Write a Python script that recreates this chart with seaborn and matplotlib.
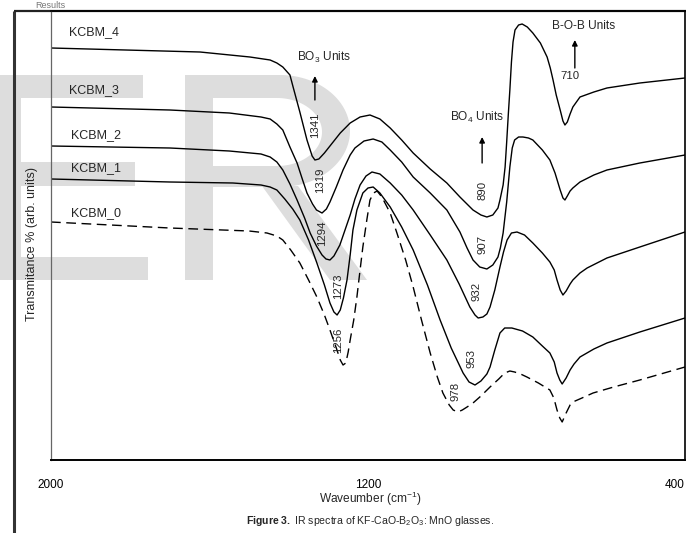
import numpy as np
import pandas as pd
import matplotlib
matplotlib.use("Agg")
import matplotlib.pyplot as plt
import seaborn as sns
from matplotlib.patches import Polygon, Rectangle

# ---------------- data ----------------
w4 = [2000, 1624, 1498, 1447, 1430, 1415, 1397, 1389, 1372, 1354, 1341, 1334, 1324, 1310, 1296, 1270,
      1245, 1220, 1195, 1170, 1144, 1115, 1086, 1043, 1001, 968, 935, 915, 900, 885, 872, 867, 859,
      854, 850, 846, 842, 838, 834, 829, 820, 811, 798, 784, 765, 748, 740, 733, 725, 715, 708, 703,
      697, 690, 683, 665, 630, 597, 514, 400]
t4 = [412, 408, 403, 400, 397, 393, 385, 373, 348, 320, 304, 300, 301, 307, 314, 327,
      337, 343, 345, 341, 332, 320, 307, 291, 277, 263, 250, 245, 243, 245, 252, 260, 275,
      293, 318, 345, 370, 398, 418, 430, 435, 436, 433, 427, 417, 403, 392, 380, 365, 350, 339, 335,
      338, 346, 353, 363, 368, 372, 377, 382]

w3 = [2000, 1700, 1550, 1470, 1447, 1430, 1415, 1397, 1379, 1365, 1354, 1340, 1330, 1316, 1305, 1296,
      1280, 1263, 1245, 1233, 1210, 1187, 1165, 1144, 1115, 1086, 1043, 1001, 968, 950, 935, 918, 900,
      885, 872, 866, 859, 850, 842, 836, 830, 820, 809, 795, 784, 760, 741, 728, 715, 708, 703, 697,
      690, 683, 665, 630, 597, 514, 400]
t3 = [353, 350, 347, 343, 341, 336, 330, 313, 297, 280, 267, 256, 250, 247, 251, 258,
      273, 290, 305, 312, 319, 321, 318, 310, 298, 283, 267, 250, 228, 212, 200, 193, 191,
      195, 203, 212, 227, 258, 293, 312, 320, 323, 323, 322, 320, 310, 300, 287, 270, 262, 260, 264,
      269, 272, 278, 285, 290, 297, 305]

w2 = [2000, 1700, 1550, 1470, 1447, 1430, 1415, 1397, 1379, 1360, 1346, 1330, 1316, 1306, 1296, 1286,
      1271, 1258, 1245, 1233, 1220, 1205, 1190, 1170, 1144, 1115, 1086, 1043, 1001, 970, 943, 930, 922,
      910, 900, 892, 880, 867, 858, 849, 838, 824, 805, 784, 760, 741, 730, 723, 715, 708, 700, 690,
      683, 665, 647, 597, 514, 400]
t2 = [314, 312, 309, 306, 303, 298, 290, 276, 260, 242, 227, 214, 205, 201, 200, 204,
      215, 230, 245, 261, 275, 284, 288, 286, 277, 265, 250, 225, 200, 176, 153, 145, 142,
      143, 146, 153, 170, 193, 208, 220, 227, 228, 225, 217, 207, 198, 190, 180, 170, 165, 169, 176,
      180, 187, 192, 202, 213, 228]

w1 = [2000, 1700, 1541, 1470, 1447, 1430, 1410, 1390, 1372, 1350, 1329, 1310, 1296, 1286, 1278, 1270,
      1262, 1253, 1245, 1238, 1228, 1213, 1200, 1187, 1170, 1144, 1115, 1086, 1050, 1018, 990, 960, 945,
      930, 915, 900, 892, 880, 867, 855, 837, 810, 784, 760, 741, 730, 723, 716, 710, 700, 690, 680,
      665, 630, 597, 514, 400]
t1 = [281, 278, 277, 275, 273, 270, 261, 251, 240, 220, 197, 175, 157, 148, 145, 150,
      162, 180, 205, 230, 250, 267, 272, 273, 267, 253, 233, 210, 175, 140, 112, 87, 78,
      75, 79, 86, 93, 110, 127, 132, 132, 129, 123, 114, 107, 98, 87, 80, 76, 82, 90, 96,
      103, 111, 117, 128, 142]

w0 = [2000, 1700, 1500, 1455, 1430, 1415, 1395, 1372, 1350, 1329, 1310, 1296, 1280, 1270, 1263, 1256,
      1250, 1245, 1236, 1228, 1220, 1213, 1203, 1195, 1186, 1177, 1165, 1144, 1127, 1105, 1086, 1065,
      1043, 1025, 1011, 995, 985, 973, 962, 950, 935, 915, 892, 870, 855, 842, 830, 815, 799, 770, 741,
      731, 723, 716, 710, 700, 690, 683, 660, 632, 580, 514, 400]
t0 = [238, 232, 229, 227, 224, 220, 210, 197, 180, 163, 145, 130, 112, 100, 95, 97,
      108, 120, 140, 163, 190, 213, 240, 260, 267, 269, 263, 247, 227, 200, 173, 140,
      107, 83, 67, 55, 50, 48, 50, 53, 57, 64, 73, 81, 87, 89, 88, 86, 83, 77, 70,
      62, 50, 42, 38, 47, 55, 58, 62, 67, 73, 80, 93]

samples = ["KCBM_4", "KCBM_3", "KCBM_2", "KCBM_1", "KCBM_0"]
label_w = [1955, 1955, 1950, 1950, 1950]
label_t = [428, 370, 325, 292, 247]

peak_texts = ["1341", "1319", "1294", "1273", "1256", "890", "907", "932", "953", "978"]
peak_w = [1334, 1321, 1316, 1276, 1276, 912, 912, 925, 938, 980]
peak_t = [335, 280, 227, 174, 120, 270, 216, 169, 101, 69]

xticks = [2000, 1200, 400]

# ---------------- figure ----------------
sns.set_theme(style="white")
plt.rcParams["font.family"] = ["Liberation Sans", "DejaVu Sans"]
plt.rcParams["mathtext.fontset"] = "custom"
plt.rcParams["mathtext.rm"] = "Liberation Sans"
plt.rcParams["mathtext.it"] = "Liberation Sans:italic"
plt.rcParams["mathtext.bf"] = "Liberation Sans:bold"

W, H = 691, 533
fig = plt.figure(figsize=(W / 100, H / 100), dpi=100)
fig.patch.set_facecolor("white")

# background overlay in pixel coordinates (watermark + page frame)
bg = fig.add_axes([0, 0, 1, 1], zorder=0)
bg.set_xlim(0, W)
bg.set_ylim(H, 0)
bg.axis("off")
wm = "#dddddd"
# E
bg.add_patch(Rectangle((-20, 75), 41, 205, color=wm, lw=0))
bg.add_patch(Rectangle((-20, 75), 163, 23, color=wm, lw=0))
bg.add_patch(Rectangle((-20, 162), 155, 24, color=wm, lw=0))
bg.add_patch(Rectangle((-20, 257), 168, 23, color=wm, lw=0))
# R
bg.add_patch(Rectangle((185, 75), 28, 205, color=wm, lw=0))
ang = np.linspace(-np.pi / 2, np.pi / 2, 60)
outer = [(213, 75), (280, 75)] + [(280 + 70 * np.cos(a), 131 + 56 * np.sin(a)) for a in ang] + [(213, 187)]
bg.add_patch(Polygon(outer, closed=True, color=wm, lw=0))
inner = [(213, 98), (277, 98)] + [(277 + 45 * np.cos(a), 132 + 34 * np.sin(a)) for a in ang] + [(213, 166)]
bg.add_patch(Polygon(inner, closed=True, color="white", lw=0))
bg.add_patch(Polygon([(262, 186), (298, 186), (367, 280), (330, 280)], closed=True, color=wm, lw=0))
# page frame
bg.plot([14, 14], [11, H + 5], color="#333333", lw=2.2, solid_capstyle="butt")
bg.plot([14, 686], [11, 11], color="#222222", lw=1.6, solid_capstyle="butt")
bg.text(35, 5, "Results", fontsize=6.5, color="#777777", va="center", ha="left")

# main axes
ax = fig.add_axes([51 / W, (H - 460) / H, 634 / W, 449 / H], zorder=1)
ax.set_facecolor("none")

series = [(w4, t4), (w3, t3), (w2, t2), (w1, t1), (w0, t0)]
for i, (name, (ws, ts)) in enumerate(zip(samples, series)):
    df = pd.DataFrame({"w": ws, "t": ts})
    ls = (0, (7, 4)) if name == "KCBM_0" else "-"
    sns.lineplot(data=df, x="w", y="t", ax=ax, color="black", lw=1.0, linestyle=ls,
                 sort=False, estimator=None)
    ax.text(label_w[i], label_t[i], name, fontsize=9, ha="left", va="center")

for txt, x, y in zip(peak_texts, peak_w, peak_t):
    ax.text(x, y, txt, rotation=90, fontsize=8.2, ha="center", va="center")
ax.text(690, 384, "710", fontsize=8.2, ha="center", va="center")

ax.text(1379, 403, r"BO$_3$ Units", fontsize=8.6, ha="left", va="center")
ax.text(993, 343, r"BO$_4$ Units", fontsize=8.6, ha="left", va="center")
ax.text(736, 434, "B-O-B Units", fontsize=8.6, ha="left", va="center")
arrow = dict(arrowstyle="-|>", color="black", lw=1.0, mutation_scale=8, shrinkA=0, shrinkB=0)
ax.annotate("", xy=(1334, 384), xytext=(1334, 360), arrowprops=arrow)
ax.annotate("", xy=(912, 323), xytext=(912, 297), arrowprops=arrow)
ax.annotate("", xy=(678, 420), xytext=(678, 392), arrowprops=arrow)

ax.set_xlim(2000, 400)
ax.set_ylim(0, 449)
ax.set_xticks(xticks)
ax.set_xticklabels([str(v) for v in xticks])
ax.set_yticks([])
ax.tick_params(axis="x", direction="in", length=4, width=0.8, pad=14, labelsize=8.5, colors="black")
labels = ax.get_xticklabels()
labels[-1].set_horizontalalignment("right")
labels[-1].set_x(labels[-1].get_position()[0])
ax.set_xlabel("")
ax.set_ylabel("")
for s in ["top", "right", "bottom"]:
    ax.spines[s].set_color("black")
ax.spines["bottom"].set_linewidth(1.4)
ax.spines["right"].set_linewidth(1.2)
ax.spines["top"].set_linewidth(1.2)
ax.spines["left"].set_color("#666666")
ax.spines["left"].set_linewidth(0.9)

fig.text(32 / W, 1 - 244 / H, "Transmitance % (arb. units)", rotation=90, fontsize=9,
         ha="center", va="center")
fig.text(370 / W, 1 - 499 / H, r"Waveumber (cm$^{-1}$)", fontsize=8.6, ha="center", va="center")
fig.text(370 / W, 1 - 521 / H, r"$\bf{Figure\ 3.}$ IR spectra of KF-CaO-B$_2$O$_3$: MnO glasses.",
         fontsize=7.6, ha="center", va="center")

fig.savefig("out.png", dpi=100)
